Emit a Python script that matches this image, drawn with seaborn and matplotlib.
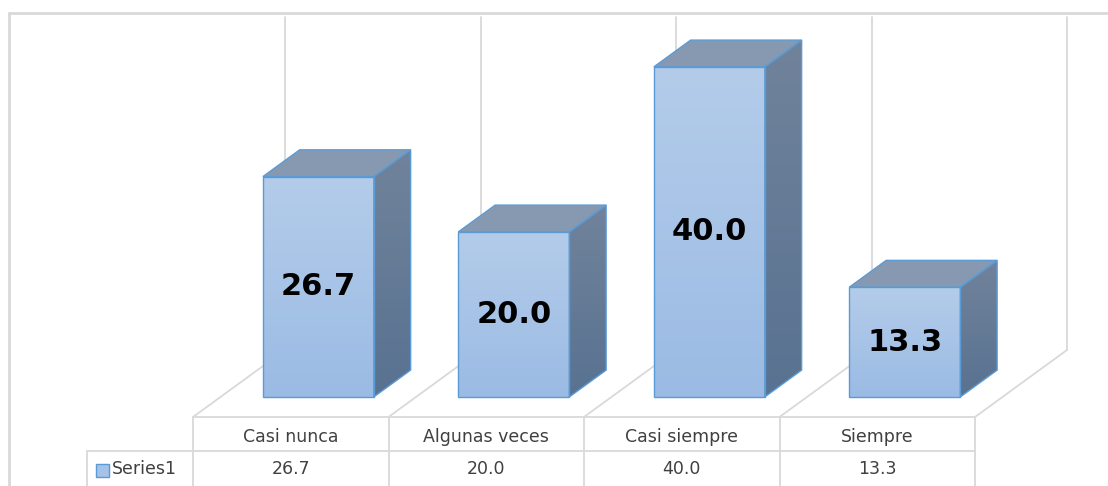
import numpy as np
import pandas as pd
import matplotlib
matplotlib.use('Agg')
import matplotlib.pyplot as plt
from matplotlib.patches import Polygon, Rectangle
from matplotlib.colors import LinearSegmentedColormap
import seaborn as sns

####################################
categories = ['Casi nunca', 'Algunas veces', 'Casi siempre', 'Siempre']
values = [26.7, 20.0, 40.0, 13.3]
series_name = 'Series1'
####################################

sns.set_theme(style='white')
plt.rcParams['font.family'] = ['DejaVu Sans']

fig = plt.figure(figsize=(11.08, 4.86), dpi=100)
ax = fig.add_axes([0, 0, 1, 1])

# layout helpers: pixel positions of the excel-like frame -> data coords
COL_W = 195.5        # px per category column
PX_PER_UNIT = 8.25   # px per value unit
X0_PX = 290.75       # centre of first column on the front floor edge
FLOOR_PX = 417


def px_x(px):
    return (px - X0_PX) / COL_W


def px_y(py):
    return (FLOOR_PX - py) / PX_PER_UNIT


DEPTH_X = 92 / COL_W
DEPTH_Y = 67 / PX_PER_UNIT
front_shift = 0.30   # bars sit a bit behind the front floor edge
bar_depth = 0.40

grid_col = '#d9d9d9'
edge_col = '#5b9bd5'
text_col = '#404040'

df = pd.DataFrame({'categoria': categories, 'valor': values})
sns.barplot(data=df, x='categoria', y='valor', color='#a5c2e8', width=111 / COL_W,
            edgecolor=edge_col, linewidth=1, ax=ax, zorder=5)

front_cmap = LinearSegmentedColormap.from_list('front', ['#9bbbe4', '#b4ccea'])
side_cmap = LinearSegmentedColormap.from_list('side', ['#587291', '#71839b'])
grad = np.linspace(0, 1, 256).reshape(-1, 1)

dx, dy = bar_depth * DEPTH_X, bar_depth * DEPTH_Y
for p in ax.patches:
    p.set_x(p.get_x() + front_shift * DEPTH_X)
    p.set_y(p.get_y() + front_shift * DEPTH_Y)
    x0, y0, w, h = p.get_x(), p.get_y(), p.get_width(), p.get_height()
    p.set_facecolor('none')

    # front face gradient
    ax.imshow(grad, extent=[x0, x0 + w, y0, y0 + h], origin='lower', cmap=front_cmap,
              aspect='auto', zorder=4, interpolation='bilinear')

    # top face
    top = Polygon([(x0, y0 + h), (x0 + w, y0 + h), (x0 + w + dx, y0 + h + dy), (x0 + dx, y0 + h + dy)],
                  closed=True, facecolor='#8799b0', edgecolor=edge_col, lw=1, zorder=4.5)
    ax.add_patch(top)

    # side face
    side = Polygon([(x0 + w, y0), (x0 + w + dx, y0 + dy), (x0 + w + dx, y0 + h + dy), (x0 + w, y0 + h)],
                   closed=True, facecolor='none', edgecolor=edge_col, lw=1, zorder=4.5)
    ax.add_patch(side)
    im = ax.imshow(grad, extent=[x0 + w, x0 + w + dx, y0, y0 + h + dy], origin='lower', cmap=side_cmap,
                   aspect='auto', zorder=4.2, interpolation='bilinear')
    im.set_clip_path(side)

ax.bar_label(ax.containers[0], labels=[f'{v:.1f}' for v in values], label_type='center',
             fontsize=22, fontweight='bold', color='black', zorder=6)

# back wall and floor lines
for k in range(len(categories) + 1):
    b = k - 0.5
    ax.plot([b + DEPTH_X] * 2, [DEPTH_Y, px_y(17)], color=grid_col, lw=1.3, zorder=1)
    ax.plot([b, b + DEPTH_X], [0, DEPTH_Y], color=grid_col, lw=1.3, zorder=1)

# outer chart border
ax.plot([px_x(9), px_x(1108)], [px_y(13)] * 2, color=grid_col, lw=2, zorder=1)
ax.plot([px_x(9)] * 2, [px_y(13), px_y(486)], color=grid_col, lw=2, zorder=1)

# data table
ybot = px_y(486)
ax.plot([-0.5, len(categories) - 0.5], [0, 0], color=grid_col, lw=1.3, zorder=1)
ax.plot([px_x(87), len(categories) - 0.5], [px_y(451)] * 2, color=grid_col, lw=1.3, zorder=1)
ax.plot([px_x(87)] * 2, [px_y(451), ybot], color=grid_col, lw=1.3, zorder=1)
for k in range(len(categories) + 1):
    ax.plot([k - 0.5] * 2, [0, ybot], color=grid_col, lw=1.3, zorder=1)

for i, (cat, v) in enumerate(zip(categories, values)):
    ax.text(i, px_y(437), cat, ha='center', va='center', fontsize=12.5, color=text_col)
    ax.text(i, px_y(469), f'{v:.1f}', ha='center', va='center', fontsize=12.5, color=text_col)

ax.add_patch(Rectangle((px_x(96), px_y(477)), 13 / COL_W, 13 / PX_PER_UNIT,
                       facecolor='#a5c2e8', edgecolor=edge_col, lw=1, zorder=3))
ax.text(px_x(112), px_y(469), series_name, ha='left', va='center', fontsize=12.5, color=text_col)

ax.set_xlim(px_x(0), px_x(1108))
ax.set_ylim(px_y(486), px_y(0))
ax.axis('off')

fig.savefig('out.png', dpi=100)
